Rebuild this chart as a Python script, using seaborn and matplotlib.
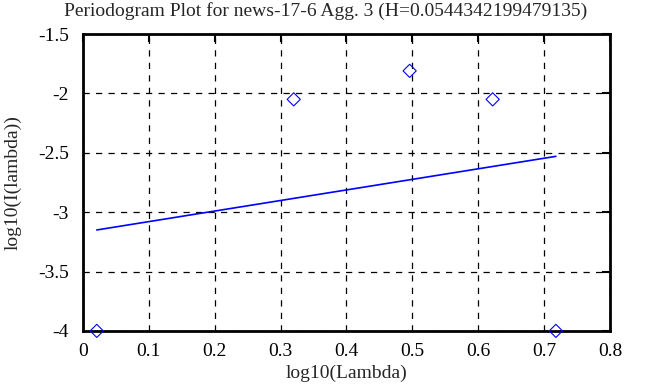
import matplotlib
matplotlib.use("Agg")
import matplotlib.pyplot as plt
import seaborn as sns
import pandas as pd

# periodogram points (log10 lambda vs log10 I(lambda))
log_lambda = [0.021, 0.320, 0.496, 0.622, 0.718]
log_I = [-4.0, -2.05, -1.81, -2.05, -4.0]

# fitted line end points
fit_x = [0.021, 0.718]
fit_y = [-3.15, -2.53]

pts = pd.DataFrame({"x": log_lambda, "y": log_I})
fit = pd.DataFrame({"x": fit_x, "y": fit_y})

sns.set_style("white")
plt.rcParams["font.family"] = ["Liberation Serif", "DejaVu Serif"]

fig = plt.figure(figsize=(6.53, 3.87), dpi=100)
ax = fig.add_axes([0.127, 0.145, 0.807, 0.767])

sns.lineplot(data=fit, x="x", y="y", color="blue", linewidth=1.2, ax=ax)
sns.scatterplot(data=pts, x="x", y="y", marker="D", s=45, facecolors="none",
                edgecolor="blue", linewidth=0.8, ax=ax, clip_on=False, zorder=5)

ax.set_xlim(0, 0.8)
ax.set_ylim(-4, -1.5)
ax.set_xticks([0, 0.1, 0.2, 0.3, 0.4, 0.5, 0.6, 0.7, 0.8])
ax.set_xticklabels(["0", "0.1", "0.2", "0.3", "0.4", "0.5", "0.6", "0.7", "0.8"])
ax.set_yticks([-4, -3.5, -3, -2.5, -2, -1.5])
ax.set_yticklabels(["-4", "-3.5", "-3", "-2.5", "-2", "-1.5"])
ax.grid(True, color="black", linestyle=(0, (5, 5)), linewidth=0.9)
ax.tick_params(direction="in", length=6, width=1.5, top=True, right=True,
               labelsize=14, colors="black")
ax.tick_params(axis="y", pad=10)
ax.tick_params(axis="x", pad=9)
for sp in ax.spines.values():
    sp.set_linewidth(2)
    sp.set_color("black")
    sp.set_visible(True)

fig.suptitle("Periodogram Plot for news-17-6 Agg. 3 (H=0.0544342199479135)",
             fontsize=14, x=0.498, y=0.995, va="top")
ax.set_xlabel("log10(Lambda)", fontsize=14, labelpad=3)
ax.set_ylabel("log10(I(lambda))", fontsize=14, labelpad=12)

fig.savefig("out.png", dpi=100)
